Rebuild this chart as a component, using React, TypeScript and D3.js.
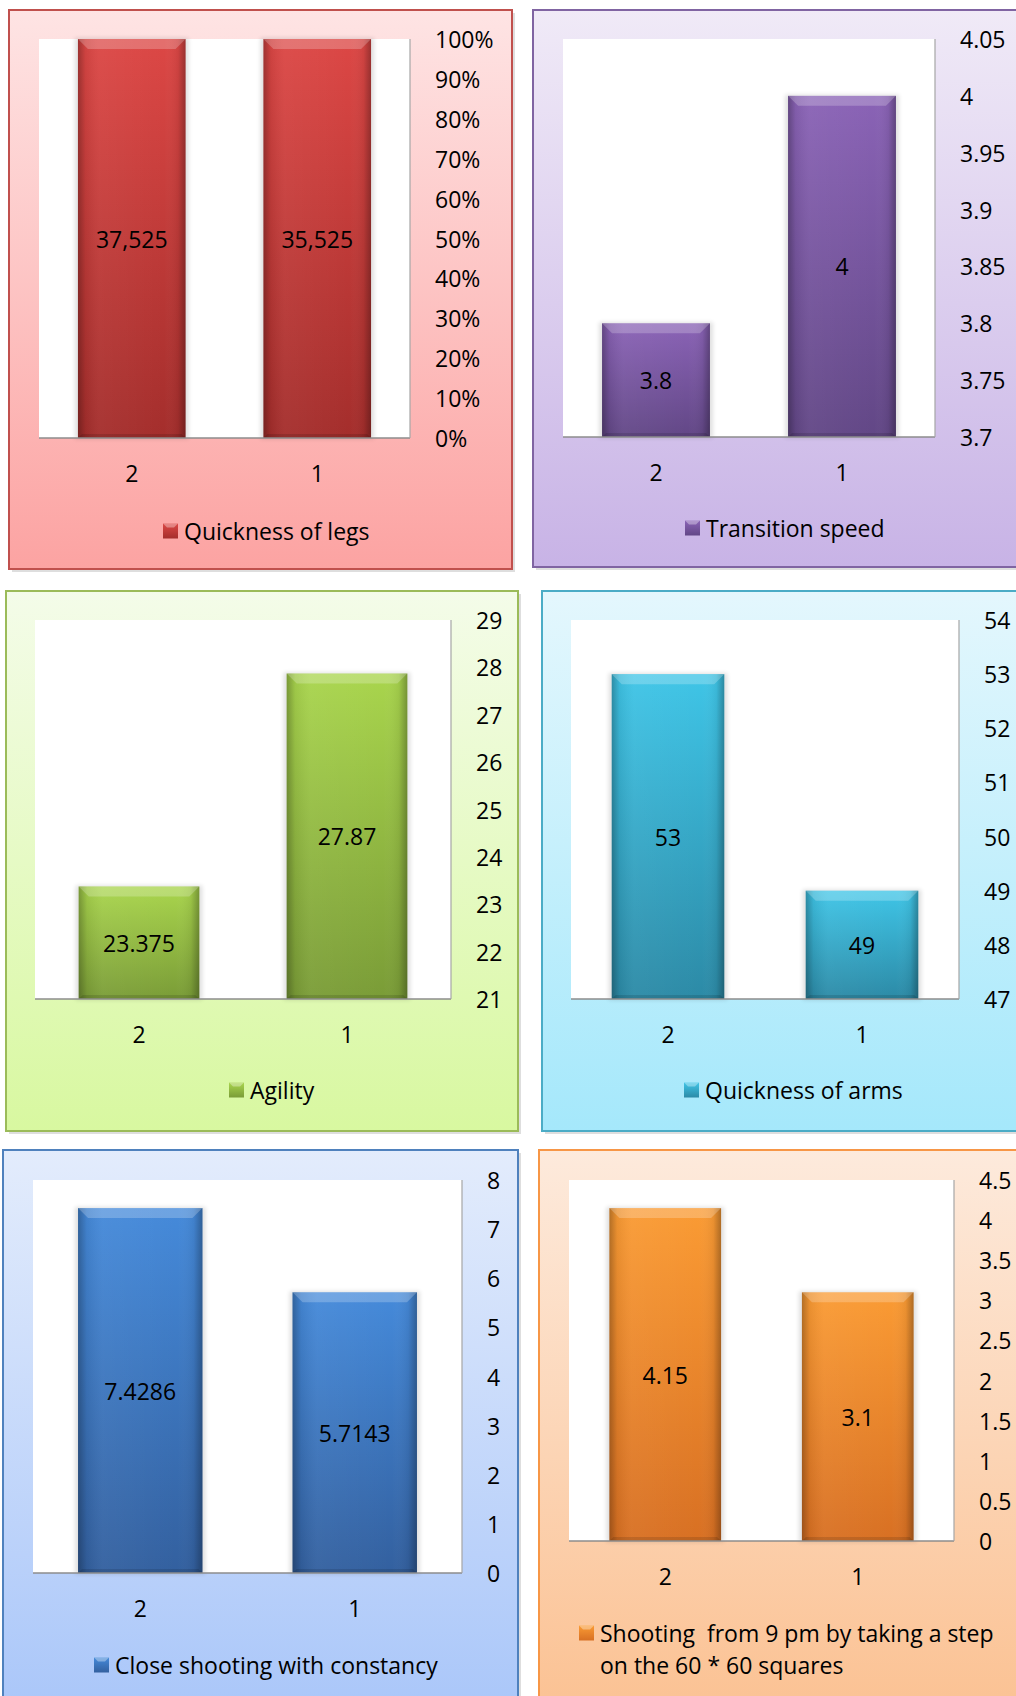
import React from "react";
import * as d3 from "d3";

// ---------- DATA ----------
const categories = ["2", "1"];

const legsValues = [37.525, 35.525];
const legsTicks = [0, 10, 20, 30, 40, 50, 60, 70, 80, 90, 100];

const transitionValues = [3.8, 4];
const transitionTicks = [3.7, 3.75, 3.8, 3.85, 3.9, 3.95, 4, 4.05];

const agilityValues = [23.375, 27.87];
const agilityTicks = [21, 22, 23, 24, 25, 26, 27, 28, 29];

const armsValues = [53, 49];
const armsTicks = [47, 48, 49, 50, 51, 52, 53, 54];

const closeValues = [7.4286, 5.7143];
const closeTicks = [0, 1, 2, 3, 4, 5, 6, 7, 8];

const stepValues = [4.15, 3.1];
const stepTicks = [0, 0.5, 1, 1.5, 2, 2.5, 3, 3.5, 4, 4.5];

const legendNames = {
  legs: ["Quickness of legs"],
  transition: ["Transition speed"],
  agility: ["Agility"],
  arms: ["Quickness of arms"],
  close: ["Close shooting with constancy"],
  step: ["Shooting  from 9 pm by taking a step", "on the 60 * 60 squares"],
};

// ---------- STYLE / LAYOUT ----------
const FONT = "'Open Sans', 'DejaVu Sans', sans-serif";
const FS = 23;

type Panel = {
  key: string;
  values: number[];
  ticks: number[];
  tickFmt: (t: number) => string;
  valueFmt: (v: number) => string;
  percent?: boolean;
  frame: [number, number, number, number];
  plot: [number, number, number, number];
  legend: [number, number];
  bgTop: string;
  bgBottom: string;
  border: string;
  barTop: string;
  barBottom: string;
  legendNames: string[];
};

const panels: Panel[] = [
  {
    key: "legs",
    values: legsValues,
    ticks: legsTicks,
    tickFmt: (t) => `${t}%`,
    valueFmt: (v) => d3.format(".3f")(v).replace(".", ","),
    percent: true,
    frame: [9, 10, 503, 559],
    plot: [39, 39, 410, 438],
    legend: [163, 531],
    bgTop: "#fee4e4",
    bgBottom: "#fca3a2",
    border: "#c0504d",
    barTop: "#dc4745",
    barBottom: "#a42e2c",
    legendNames: legendNames.legs,
  },
  {
    key: "transition",
    values: transitionValues,
    ticks: transitionTicks,
    tickFmt: (t) => String(t),
    valueFmt: (v) => String(v),
    frame: [533, 10, 510, 557],
    plot: [563, 39, 935, 437],
    legend: [685, 528],
    bgTop: "#f0eaf7",
    bgBottom: "#c8b3e6",
    border: "#8064a2",
    barTop: "#8a63b6",
    barBottom: "#624786",
    legendNames: legendNames.transition,
  },
  {
    key: "agility",
    values: agilityValues,
    ticks: agilityTicks,
    tickFmt: (t) => String(t),
    valueFmt: (v) => String(v),
    frame: [6, 591, 512, 540],
    plot: [35, 620, 451, 999],
    legend: [229, 1090],
    bgTop: "#f4fce9",
    bgBottom: "#d8f8a0",
    border: "#9bbb59",
    barTop: "#a9d54d",
    barBottom: "#7a9c37",
    legendNames: legendNames.agility,
  },
  {
    key: "arms",
    values: armsValues,
    ticks: armsTicks,
    tickFmt: (t) => String(t),
    valueFmt: (v) => String(v),
    frame: [542, 591, 500, 540],
    plot: [571, 620, 959, 999],
    legend: [684, 1090],
    bgTop: "#e4f7fd",
    bgBottom: "#a5e8fb",
    border: "#4bacc6",
    barTop: "#3fc5e7",
    barBottom: "#2c8aa6",
    legendNames: legendNames.arms,
  },
  {
    key: "close",
    values: closeValues,
    ticks: closeTicks,
    tickFmt: (t) => String(t),
    valueFmt: (v) => String(v),
    frame: [3, 1150, 515, 600],
    plot: [33, 1180, 462, 1573],
    legend: [94, 1665],
    bgTop: "#e3ecfc",
    bgBottom: "#a6c4f9",
    border: "#4f81bd",
    barTop: "#458ada",
    barBottom: "#33609f",
    legendNames: legendNames.close,
  },
  {
    key: "step",
    values: stepValues,
    ticks: stepTicks,
    tickFmt: (t) => String(t),
    valueFmt: (v) => String(v),
    frame: [539, 1150, 510, 600],
    plot: [569, 1180, 954, 1541],
    legend: [579, 1633],
    bgTop: "#fdeadc",
    bgBottom: "#fbbf8e",
    border: "#f79646",
    barTop: "#fa9b34",
    barBottom: "#d87023",
    legendNames: legendNames.step,
  },
];

function Bar({ x, y, w, h, id }: { x: number; y: number; w: number; h: number; id: string }) {
  const b = Math.min(10, h / 4);
  return (
    <g>
      <rect x={x - 3} y={y - 1} width={w + 6} height={h + 2} fill="#000" opacity={0.12} filter="url(#blur)" />
      <rect x={x} y={y} width={w} height={h} fill={`url(#bar-${id})`} />
      <rect x={x} y={y} width={w} height={h} fill="url(#sideShade)" />
      <polygon
        points={`${x},${y} ${x + w},${y} ${x + w - b},${y + b} ${x + b},${y + b}`}
        fill="#ffffff"
        opacity={0.22}
      />
      <polygon
        points={`${x},${y + h} ${x + w},${y + h} ${x + w - 4},${y + h - 4} ${x + 4},${y + h - 4}`}
        fill="#000"
        opacity={0.12}
      />
    </g>
  );
}

function ChartPanel({ p }: { p: Panel }) {
  const [fx, fy, fw, fh] = p.frame;
  const [px0, py0, px1, py1] = p.plot;

  const x = d3.scaleBand<string>().domain(categories).range([px0, px1]).padding(0);
  const barW = x.bandwidth() * 0.58;

  const y = d3
    .scaleLinear()
    .domain([p.ticks[0], p.ticks[p.ticks.length - 1]])
    .range([py1, py0]);

  let tops: number[];
  if (p.percent) {
    const rows = categories.map((c, i) => ({ cat: c, v: p.values[i] }));
    const stacked = d3
      .stack<{ cat: string; v: number }>()
      .keys(["v"])
      .value((d) => d.v)
      .offset(d3.stackOffsetExpand)(rows);
    tops = stacked[0].map((s) => s[1] * 100);
  } else {
    tops = p.values;
  }

  const [lx, ly] = p.legend;

  return (
    <g>
      <rect x={fx + 3} y={fy + 3} width={fw} height={fh} fill="#c8c8c8" opacity={0.6} />
      <rect x={fx} y={fy} width={fw} height={fh} fill={`url(#bg-${p.key})`} stroke={p.border} strokeWidth={2} />
      <rect x={px0} y={py0} width={px1 - px0} height={py1 - py0} fill="#ffffff" />
      {categories.map((c, i) => {
        const cx = (x(c) as number) + x.bandwidth() / 2;
        const yt = y(tops[i]);
        return (
          <g key={c}>
            <Bar x={cx - barW / 2} y={yt} w={barW} h={py1 - yt} id={p.key} />
            <text
              x={cx}
              y={(yt + py1) / 2}
              textAnchor="middle"
              dominantBaseline="central"
              fontFamily={FONT}
              fontSize={FS}
              fill="#000"
            >
              {p.valueFmt(p.values[i])}
            </text>
            <text
              x={cx}
              y={py1 + 35}
              textAnchor="middle"
              dominantBaseline="central"
              fontFamily={FONT}
              fontSize={FS}
              fill="#000"
            >
              {c}
            </text>
          </g>
        );
      })}
      <line x1={px0} x2={px1} y1={py1} y2={py1} stroke="#8c8c8c" strokeWidth={1.5} />
      <line x1={px1} x2={px1} y1={py0} y2={py1} stroke="#a6a6a6" strokeWidth={1.2} />
      {p.ticks.map((t) => (
        <text
          key={t}
          x={px1 + 25}
          y={y(t)}
          textAnchor="start"
          dominantBaseline="central"
          fontFamily={FONT}
          fontSize={FS}
          fill="#000"
        >
          {p.tickFmt(t)}
        </text>
      ))}
      <rect x={lx} y={ly - 7.5} width={15} height={15} fill={`url(#bar-${p.key})`} />
      <polygon
        points={`${lx},${ly - 7.5} ${lx + 15},${ly - 7.5} ${lx + 11},${ly - 3.5} ${lx + 4},${ly - 3.5}`}
        fill="#fff"
        opacity={0.35}
      />
      {p.legendNames.map((s, i) => (
        <text
          key={i}
          x={lx + 21}
          y={ly + i * 32}
          dominantBaseline="central"
          fontFamily={FONT}
          fontSize={FS}
          fill="#000"
          style={{ whiteSpace: "pre" }}
        >
          {s}
        </text>
      ))}
    </g>
  );
}

export default function App() {
  return (
    <div style={{ position: "absolute", left: 0, top: 0 }}>
      <svg width={1016} height={1696} viewBox="0 0 1016 1696" style={{ display: "block", background: "#fff" }}>
        <defs>
          <filter id="blur" x="-20%" y="-20%" width="140%" height="140%">
            <feGaussianBlur stdDeviation="2" />
          </filter>
          <linearGradient id="sideShade" x1="0" x2="1" y1="0" y2="0">
            <stop offset="0" stopColor="#000" stopOpacity={0.28} />
            <stop offset="0.07" stopColor="#000" stopOpacity={0.06} />
            <stop offset="0.2" stopColor="#fff" stopOpacity={0.04} />
            <stop offset="0.8" stopColor="#fff" stopOpacity={0.0} />
            <stop offset="0.93" stopColor="#000" stopOpacity={0.06} />
            <stop offset="1" stopColor="#000" stopOpacity={0.3} />
          </linearGradient>
          {panels.map((p) => (
            <React.Fragment key={p.key}>
              <linearGradient id={`bg-${p.key}`} x1="0" x2="0" y1="0" y2="1">
                <stop offset="0" stopColor={p.bgTop} />
                <stop offset="1" stopColor={p.bgBottom} />
              </linearGradient>
              <linearGradient id={`bar-${p.key}`} x1="0" x2="0" y1="0" y2="1">
                <stop offset="0" stopColor={p.barTop} />
                <stop offset="1" stopColor={p.barBottom} />
              </linearGradient>
            </React.Fragment>
          ))}
        </defs>
        <rect x={0} y={0} width={1016} height={1696} fill="#fff" />
        {panels.map((p) => (
          <ChartPanel key={p.key} p={p} />
        ))}
      </svg>
    </div>
  );
}
